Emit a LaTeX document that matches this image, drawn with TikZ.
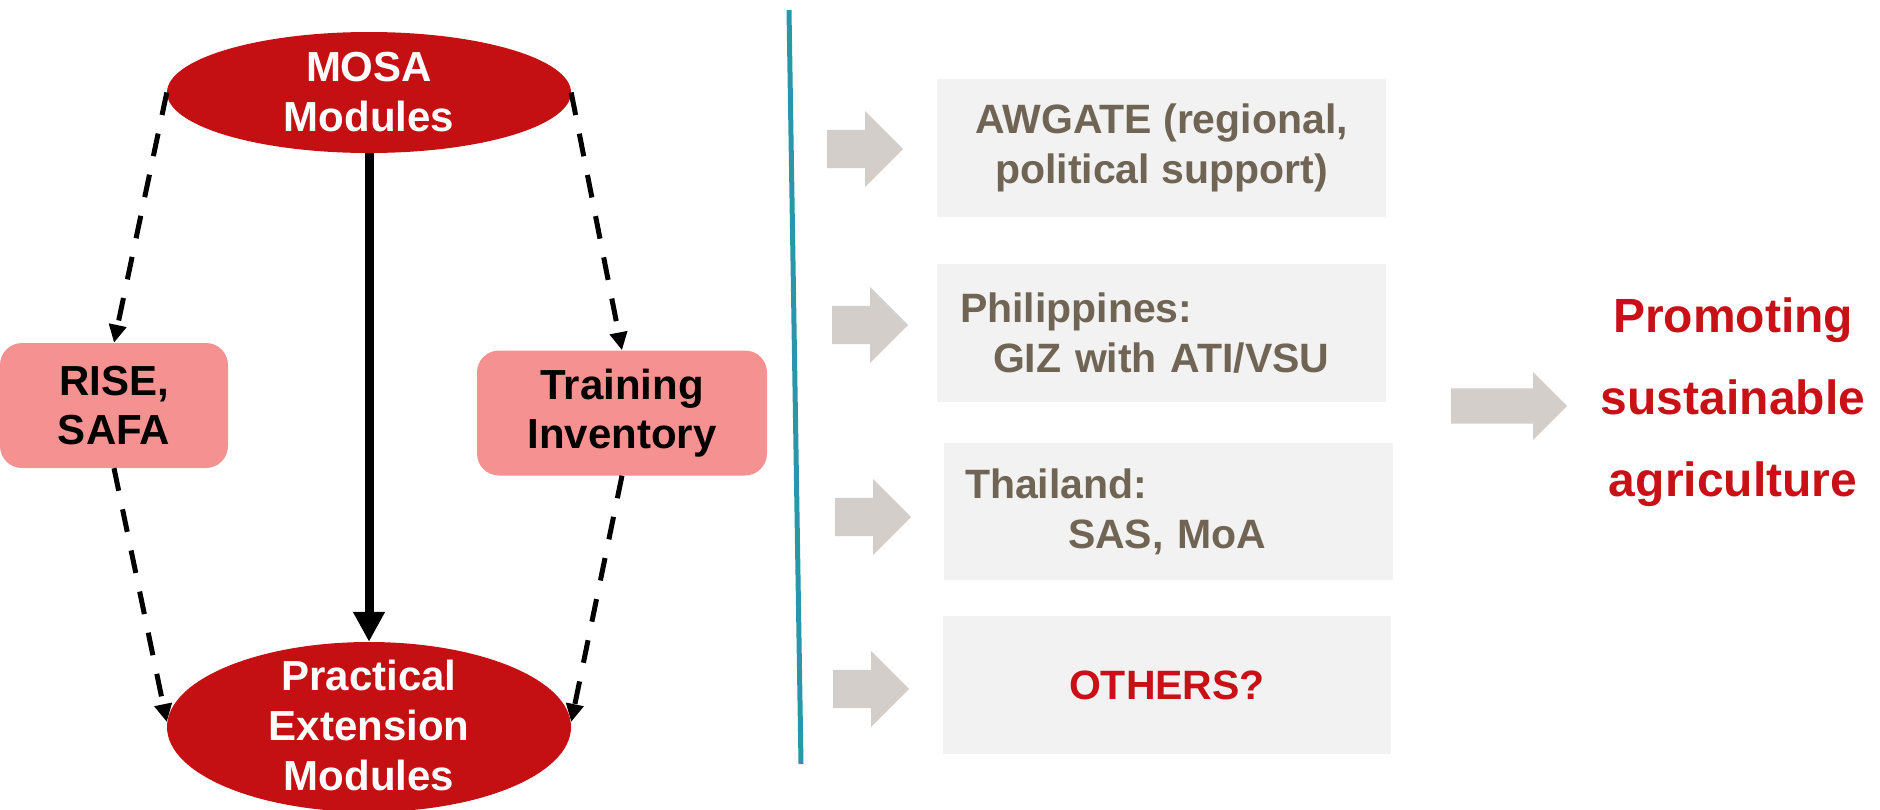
\documentclass[tikz,border=0pt]{standalone}
\usepackage{fontspec}
\setmainfont{Liberation Sans}
\usetikzlibrary{shapes.geometric,shapes.arrows,arrows.meta,positioning}

\definecolor{ovalred}{RGB}{196,16,18}
\definecolor{textred}{RGB}{200,16,22}
\definecolor{pinkbox}{RGB}{246,145,145}
\definecolor{boxgray}{RGB}{242,242,242}
\definecolor{olivetext}{RGB}{112,101,84}
\definecolor{arrgray}{RGB}{212,206,202}
\definecolor{tealline}{RGB}{42,150,170}

\tikzset{
	oval/.style={ellipse, fill=ovalred, inner sep=0pt, minimum width=404pt},
	ovaltxt/.style={text=white, align=center, font=\fontsize{42}{50}\selectfont\bfseries},
	sidebox/.style={rectangle, rounded corners=22pt, fill=pinkbox, inner sep=0pt, align=center, font=\fontsize{42}{49}\selectfont\bfseries},
	infobox/.style={rectangle, fill=boxgray, text=olivetext, inner sep=0pt, minimum width=449pt, minimum height=138pt, font=\fontsize{41}{50}\selectfont\bfseries},
	blockarr/.style={single arrow, fill=arrgray, inner xsep=0pt, inner ysep=19pt, single arrow head extend=19pt, minimum height=76pt, anchor=tail},
	dasharr/.style={line width=5pt, dash pattern=on 23pt off 19pt, -{Triangle[length=18pt,width=17pt]}},
	mainarr/.style={line width=9pt, -{Triangle[length=30pt,width=30pt]}}
}

\begin{document}
\begin{tikzpicture}[x=1pt,y=-1pt]
	\useasboundingbox (0,0) rectangle (1880,809);

	% left part
	\node[oval, minimum height=121pt] (mosa) at (369,92.5) {};
	\node[ovaltxt] (mosatxt) at (369,92.5) {MOSA\\Modules};
	\node[oval, minimum height=170pt] (pem) at (369,727) {};
	\node[ovaltxt] (pemtxt) at (369,725.5) {Practical\\Extension\\Modules};

	\node[sidebox, minimum width=228pt, minimum height=125pt] (rise) at (114,405.5) {RISE,\\SAFA};
	\node[sidebox, minimum width=290pt, minimum height=125pt] (inv) at (622,413) {Training\\Inventory};

	\draw[mainarr] (mosa.south) -- (pem.north);
	\draw[dasharr] (mosa.west) -- (rise.north);
	\draw[dasharr] (rise.south) -- ([yshift=5pt]pem.west);
	\draw[dasharr] (mosa.east) -- (inv.north);
	\draw[dasharr] (inv.south) -- ([yshift=5pt]pem.east);

	% divider
	\coordinate (divtop) at (789,10);
	\coordinate (divbot) at (801,764);
	\draw[tealline, line width=5pt] (divtop) -- (divbot);

	% right part
	\node[infobox, align=center] (awgate) at (1161.5,148) {AWGATE (regional,\\political support)};
	\node[infobox, align=left, text width=403pt, inner xsep=23pt] (phil) at (1161.5,333) {Philippines:\\\hspace*{33pt}GIZ with ATI/VSU};
	\node[infobox, align=left, text width=407pt, inner xsep=21pt, minimum height=137pt] (thai) at (1168.5,511.5) {Thailand:\\\hspace*{103pt}SAS, MoA};
	\node[infobox, align=center, text=textred, minimum width=448pt] (others) at (1167,685) {OTHERS?};

	\node[blockarr] (arr1) at (827,149) {};
	\node[blockarr] (arr2) at (832,325) {};
	\node[blockarr] (arr3) at (835,517) {};
	\node[blockarr] (arr4) at (833,689) {};

	\node[blockarr, inner ysep=17.5pt, single arrow head extend=16.5pt, minimum height=116pt] (arrbig) at (1451,406) {};
	\node[text=textred, align=center, font=\fontsize{48}{82}\selectfont\bfseries] (goal) at (1733,402) {Promoting\\sustainable\\agriculture};
\end{tikzpicture}
\end{document}
